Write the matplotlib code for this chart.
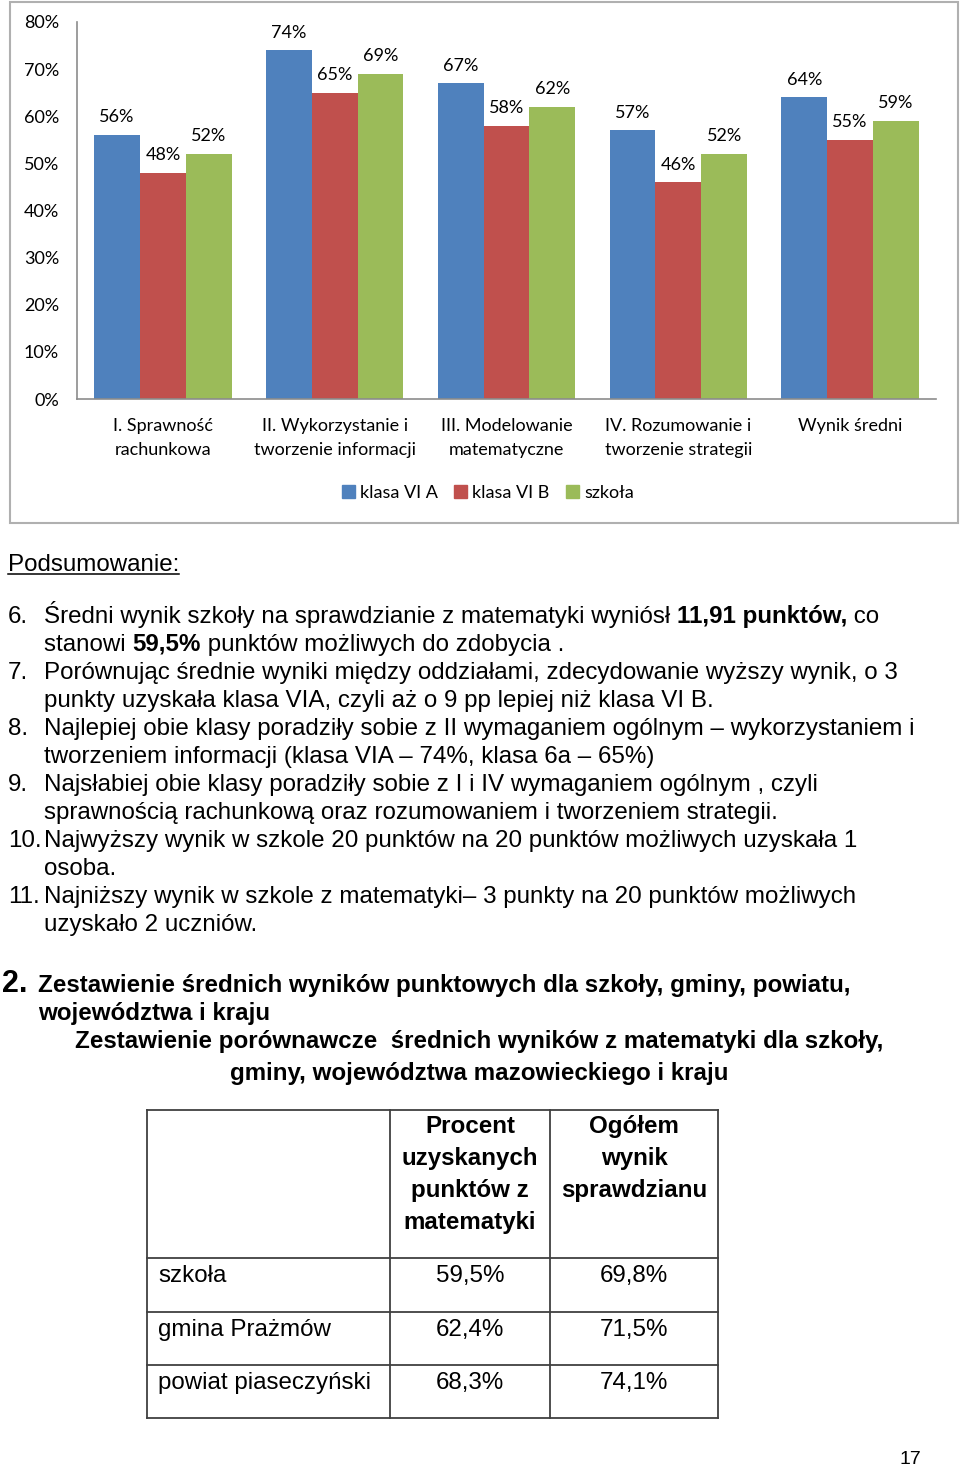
import matplotlib
matplotlib.use('Agg')
import matplotlib.pyplot as plt
import numpy as np
from matplotlib.patches import Rectangle, Patch

# ---------------- data ----------------
categories = ["I. Sprawność\nrachunkowa", "II. Wykorzystanie i\ntworzenie informacji",
              "III. Modelowanie\nmatematyczne", "IV. Rozumowanie i\ntworzenie strategii",
              "Wynik średni"]
series_names = ["klasa VI A", "klasa VI B", "szkoła"]
klasa_a = [56, 74, 67, 57, 64]
klasa_b = [48, 65, 58, 46, 55]
szkola = [52, 69, 62, 52, 59]
y_ticks = [0, 10, 20, 30, 40, 50, 60, 70, 80]

table_rows = ["szkoła", "gmina Prażmów", "powiat piaseczyński"]
table_pct_math = ["59,5%", "62,4%", "68,3%"]
table_total = ["69,8%", "71,5%", "74,1%"]
table_head1 = ["Procent", "uzyskanych", "punktów z", "matematyki"]
table_head2 = ["Ogółem", "wynik", "sprawdzianu"]

colors = ["#4F81BD", "#C0504D", "#9BBB59"]
CHART_FONT = ["Lato", "DejaVu Sans"]
BODY_FONT = ["Liberation Sans", "DejaVu Sans"]

W, H = 960, 1467
fig = plt.figure(figsize=(W / 100, H / 100), dpi=100)
fig.patch.set_facecolor("white")

page = fig.add_axes([0, 0, 1, 1])
page.set_xlim(0, W)
page.set_ylim(H, 0)
page.axis("off")

# chart frame
page.add_patch(Rectangle((10, 2), 948, 521, fill=False, edgecolor="#B0B0B0", lw=1.5))

# ---------------- chart ----------------
ax = fig.add_axes([77 / W, 1 - 399 / H, (936 - 77) / W, (399 - 22) / H])
x = np.arange(len(categories))
bw = 0.8 / 3
for i, (vals, c, name) in enumerate(zip([klasa_a, klasa_b, szkola], colors, series_names)):
    b = ax.bar(x + (i - 1) * bw, vals, bw, color=c, label=name, zorder=2)
    ax.bar_label(b, labels=[f"{v}%" for v in vals], padding=7,
                 fontsize=13, family=CHART_FONT, color="black")
ax.set_xlim(-0.5, len(categories) - 0.5)
ax.set_ylim(0, 80)
ax.set_yticks(y_ticks)
ax.set_yticklabels([f"{t}%" for t in y_ticks], family=CHART_FONT, fontsize=13)
ax.set_xticks(x)
ax.set_xticklabels(categories, family=CHART_FONT, fontsize=13, linespacing=1.55)
ax.tick_params(axis="y", length=0, pad=13)
ax.tick_params(axis="x", length=0, pad=14)
for s in ["top", "right"]:
    ax.spines[s].set_visible(False)
for s in ["left", "bottom"]:
    ax.spines[s].set_color("#8C8C8C")
    ax.spines[s].set_linewidth(1.2)
ax.patch.set_alpha(0)

handles = [Patch(color=c) for c in colors]
fig.legend(handles, series_names, loc="center", bbox_to_anchor=(488 / W, 1 - 493 / H),
           ncol=3, frameon=False, handlelength=0.7, handleheight=0.7,
           handletextpad=0.3, columnspacing=0.9,
           prop={"family": CHART_FONT, "size": 13})

# ---------------- body text ----------------
renderer = fig.canvas.get_renderer()
BS = 17.4


def put(x0, yb, pieces, size, **kw):
    xx = x0
    for txt, bold in pieces:
        t = page.text(xx, yb, txt, fontsize=size, family=BODY_FONT,
                      fontweight="bold" if bold else "normal",
                      va="baseline", ha="left", **kw)
        bb = t.get_window_extent(renderer)
        xx += bb.width
    return xx


t = page.text(8, 571, "Podsumowanie:", fontsize=BS, family=BODY_FONT, va="baseline", ha="left")
bb = t.get_window_extent(renderer)
page.plot([8, 8 + bb.width], [574, 574], color="black", lw=1.1)

items = [
    ("6.", [[("Średni wynik szkoły na sprawdzianie z matematyki wyniósł ", False),
             ("11,91 punktów,", True), (" co", False)],
            [("stanowi ", False), ("59,5%", True), (" punktów możliwych do zdobycia .", False)]]),
    ("7.", [[("Porównując średnie wyniki między oddziałami, zdecydowanie wyższy wynik, o 3", False)],
            [("punkty uzyskała klasa VIA, czyli aż o 9 pp lepiej niż klasa VI B.", False)]]),
    ("8.", [[("Najlepiej obie klasy poradziły sobie z II wymaganiem ogólnym – wykorzystaniem i", False)],
            [("tworzeniem informacji (klasa VIA – 74%, klasa 6a – 65%)", False)]]),
    ("9.", [[("Najsłabiej obie klasy poradziły sobie z I i IV wymaganiem ogólnym , czyli", False)],
            [("sprawnością rachunkową oraz rozumowaniem i tworzeniem strategii.", False)]]),
    ("10.", [[("Najwyższy wynik w szkole 20 punktów na 20 punktów możliwych uzyskała 1", False)],
             [("osoba.", False)]]),
    ("11.", [[("Najniższy wynik w szkole z matematyki– 3 punkty na 20 punktów możliwych", False)],
             [("uzyskało 2 uczniów.", False)]]),
]
yb = 623
for num, lines in items:
    page.text(8, yb, num, fontsize=BS, family=BODY_FONT, va="baseline", ha="left")
    for ln in lines:
        put(44, yb, ln, BS)
        yb += 28

# heading
HS = 17.4
page.text(2, 992, "2.", fontsize=22, family=BODY_FONT, fontweight="bold", va="baseline", ha="left")
page.text(38, 992, "Zestawienie średnich wyników punktowych dla szkoły, gminy, powiatu,",
          fontsize=HS, family=BODY_FONT, fontweight="bold", va="baseline", ha="left")
page.text(38, 1020, "województwa i kraju",
          fontsize=HS, family=BODY_FONT, fontweight="bold", va="baseline", ha="left")
page.text(479, 1048, "Zestawienie porównawcze  średnich wyników z matematyki dla szkoły,",
          fontsize=HS, family=BODY_FONT, fontweight="bold", va="baseline", ha="center")
page.text(479, 1080, "gminy, województwa mazowieckiego i kraju",
          fontsize=HS, family=BODY_FONT, fontweight="bold", va="baseline", ha="center")

# ---------------- table ----------------
col_x = [147, 390, 550, 718]
row_y = [1110, 1258, 1312, 1365, 1418]
for cx in col_x:
    page.plot([cx, cx], [row_y[0], row_y[-1]], color="#404040", lw=1.3)
for ry in row_y:
    page.plot([col_x[0], col_x[-1]], [ry, ry], color="#404040", lw=1.3)

TS = 17.4
c1 = (col_x[1] + col_x[2]) / 2
c2 = (col_x[2] + col_x[3]) / 2
for k, line in enumerate(table_head1):
    page.text(c1, 1133 + 32 * k, line, fontsize=TS, family=BODY_FONT,
              fontweight="bold", va="baseline", ha="center")
for k, line in enumerate(table_head2):
    page.text(c2, 1133 + 32 * k, line, fontsize=TS, family=BODY_FONT,
              fontweight="bold", va="baseline", ha="center")
for i, (name, v1, v2) in enumerate(zip(table_rows, table_pct_math, table_total)):
    ybl = row_y[i + 1] + 24
    page.text(158, ybl, name, fontsize=TS, family=BODY_FONT, va="baseline", ha="left")
    page.text(c1, ybl, v1, fontsize=TS, family=BODY_FONT, va="baseline", ha="center")
    page.text(c2, ybl, v2, fontsize=TS, family=BODY_FONT, va="baseline", ha="center")

page.text(910, 1464, "17", fontsize=14, family=BODY_FONT, va="baseline", ha="center")

fig.savefig("out.png", dpi=100, facecolor="white")
